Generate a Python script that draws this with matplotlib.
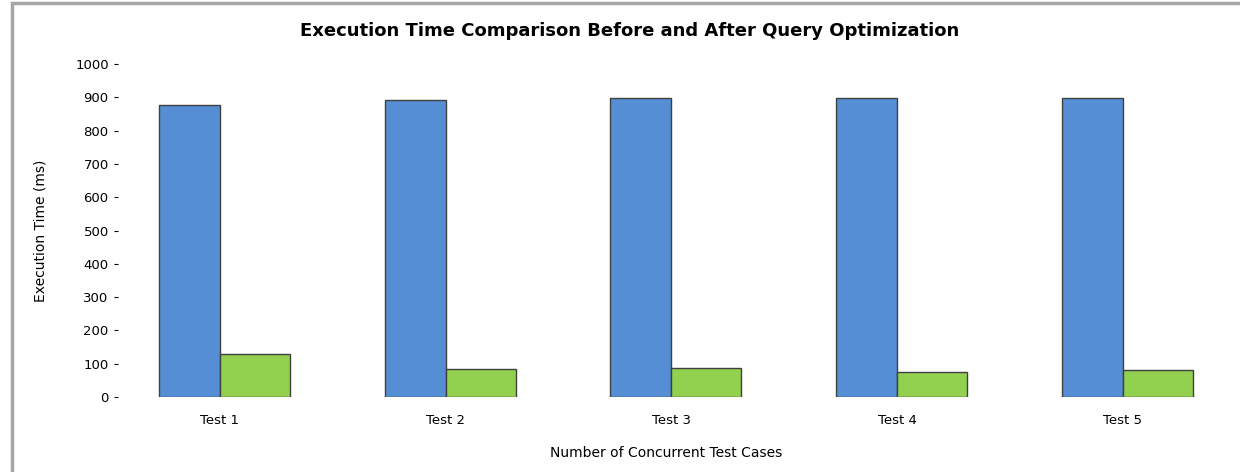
import matplotlib.pyplot as plt
import matplotlib.patches as patches
import numpy as np

# data
categories = ["Test 1", "Test 2", "Test 3", "Test 4", "Test 5"]
before = [877, 892, 898, 898, 898]
after = [128, 85, 88, 76, 82]
yticks = list(range(0, 1001, 100))

blue = "#558ed5"
green = "#92d050"


def show_plot():
    fig = plt.figure(figsize=(12.4, 4.72), dpi=100)
    # grey frame round the chart
    fig.patches.append(patches.Rectangle((12 / 1240, -0.05), 1.1, (472 - 3) / 472 + 0.05,
                                         transform=fig.transFigure, fill=False,
                                         edgecolor="#a6a6a6", linewidth=2.5))

    ax = fig.add_axes([0.0955, 0.1589, 0.8827, 0.7055])
    x = np.arange(len(categories))
    ax.bar(x, before, width=-0.27, align="edge", color=blue,
           edgecolor="#404040", linewidth=1)
    ax.bar(x, after, width=0.31, align="edge", color=green,
           edgecolor="#404040", linewidth=1)

    ax.set_xlim(-0.45, 4.4)
    ax.set_ylim(0, 1000)
    ax.set_yticks(yticks)
    ax.set_xticks(x)
    ax.set_xticklabels(categories, fontsize=9.5)
    ax.tick_params(axis="x", length=0, pad=12)
    ax.tick_params(axis="y", length=3, labelsize=9.5, pad=4)
    for s in ax.spines.values():
        s.set_visible(False)

    ax.set_ylabel("Execution Time (ms)", fontsize=10, labelpad=20)
    ax.set_xlabel("Number of Concurrent Test Cases", fontsize=10, labelpad=14)
    fig.text(0.508, 0.935, "Execution Time Comparison Before and After Query Optimization",
             ha="center", va="center", fontsize=13, fontweight="bold")

    fig.savefig("out.png", dpi=100)


if __name__ == "__main__":
    show_plot()
